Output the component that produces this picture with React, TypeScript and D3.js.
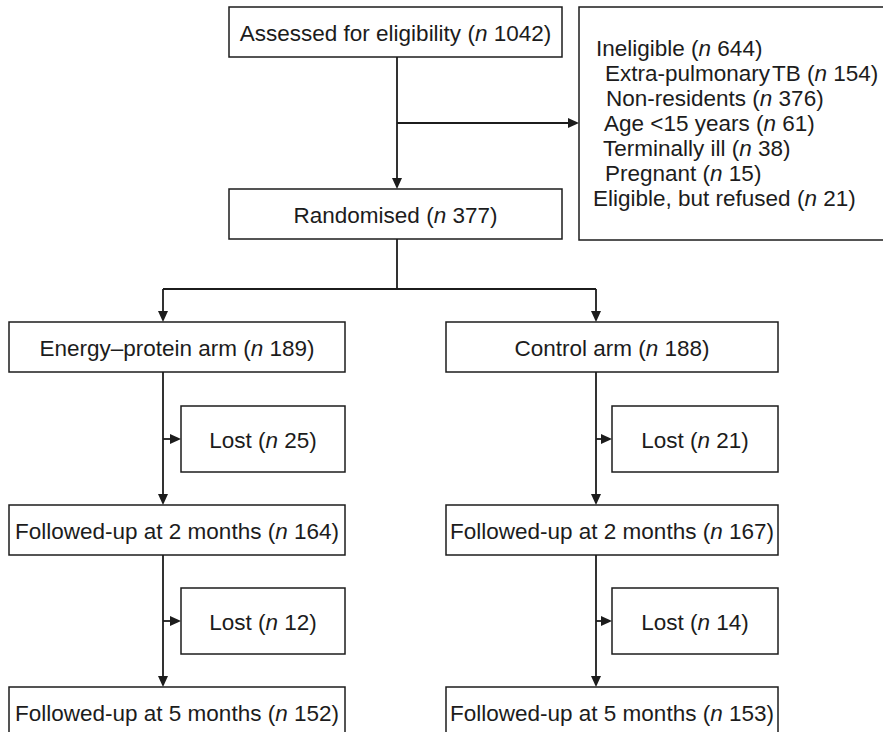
import React from "react";
import * as d3 from "d3";

// flow counts
const stageLabels = ["Assessed for eligibility", "Randomised"];
const stageN = [1042, 377];

const exclusionLabels = [
  "Ineligible",
  "Extra-pulmonary\u200aTB",
  "Non-residents",
  "Age <15 years",
  "Terminally ill",
  "Pregnant",
  "Eligible, but refused",
];
const exclusionN = [644, 154, 376, 61, 38, 15, 21];
const exclusionIndent = [0, 9, 10, 8, 7, 9, -3];

const armLabels = ["Energy\u2013protein arm", "Control arm"];
const armN = [189, 188];
const lostAt2 = [25, 21];
const followed2 = [164, 167];
const lostAt5 = [12, 14];
const followed5 = [152, 153];

const W = 883;
const H = 732;
const FONT = "'Liberation Sans', Arial, Helvetica, sans-serif";
const FS = 22.5;
const INK = "#1c1c1c";

function Label({ x, y, text, n, anchor = "middle" }: { x: number; y: number; text: string; n: number; anchor?: string }) {
  return (
    <text x={x} y={y} textAnchor={anchor} dominantBaseline="central" fontFamily={FONT} fontSize={FS} fill={INK}>
      {text} (<tspan fontStyle="italic">n</tspan> {n})
    </text>
  );
}

function Box({ x0, x1, y0, y1, text, n }: { x0: number; x1: number; y0: number; y1: number; text: string; n: number }) {
  return (
    <g>
      <rect x={x0} y={y0} width={x1 - x0} height={y1 - y0} fill="#fff" stroke={INK} strokeWidth={1.5} />
      <Label x={(x0 + x1) / 2} y={(y0 + y1) / 2 + 1} text={text} n={n} />
    </g>
  );
}

function arrowHead(x: number, y: number, dir: "down" | "right") {
  const len = 11;
  const half = 5;
  const p =
    dir === "down"
      ? [[x, y], [x - half, y - len], [x + half, y - len]]
      : [[x, y], [x - len, y - half], [x - len, y + half]];
  return d3.line()(p as [number, number][]) + "Z";
}

export default function App() {
  // column layout
  const col = d3.scaleOrdinal<number, [number, number]>().domain([0, 1]).range([[9, 345], [446, 778]]);
  const stem = d3.scaleOrdinal<number, number>().domain([0, 1]).range([163, 596]);
  const lostX = d3.scaleOrdinal<number, [number, number]>().domain([0, 1]).range([[181, 345], [612, 778]]);

  const top = { x0: 229, x1: 562 };
  const cx = 397;
  const rows = { assessed: [7, 57], rand: [189, 239], arm: [322, 372], lost1: [406, 472], fu2: [505, 555], lost2: [588, 654], fu5: [687, 737] };
  const exclY = d3.scaleLinear().domain([0, exclusionLabels.length - 1]).range([48, 198]);

  const arms = [0, 1];
  const line = (pts: [number, number][]) => d3.line()(pts) as string;

  return (
    <svg width={W} height={H} style={{ position: "absolute", left: 0, top: 0, display: "block", background: "#fff" }}>
      <g stroke={INK} strokeWidth={1.8} fill="none">
        <path d={line([[cx, rows.assessed[1]], [cx, rows.rand[0] - 8]])} />
        <path d={line([[cx, 123], [569, 123]])} />
        <path d={line([[cx, rows.rand[1]], [cx, 289]])} />
        <path d={line([[stem(0), 289], [stem(1), 289]])} />
        {arms.map((a) => (
          <g key={a}>
            <path d={line([[stem(a), 289], [stem(a), rows.arm[0] - 8]])} />
            <path d={line([[stem(a), rows.arm[1]], [stem(a), rows.fu2[0] - 8]])} />
            <path d={line([[stem(a), rows.fu2[1]], [stem(a), rows.fu5[0] - 8]])} />
            <path d={line([[stem(a), (rows.lost1[0] + rows.lost1[1]) / 2], [lostX(a)[0] - 8, (rows.lost1[0] + rows.lost1[1]) / 2]])} />
            <path d={line([[stem(a), (rows.lost2[0] + rows.lost2[1]) / 2], [lostX(a)[0] - 8, (rows.lost2[0] + rows.lost2[1]) / 2]])} />
          </g>
        ))}
      </g>
      <g fill={INK}>
        <path d={arrowHead(cx, rows.rand[0], "down")} />
        <path d={arrowHead(579, 123, "right")} />
        {arms.map((a) => (
          <g key={a}>
            <path d={arrowHead(stem(a), rows.arm[0], "down")} />
            <path d={arrowHead(stem(a), rows.fu2[0], "down")} />
            <path d={arrowHead(stem(a), rows.fu5[0], "down")} />
            <path d={arrowHead(lostX(a)[0], (rows.lost1[0] + rows.lost1[1]) / 2, "right")} />
            <path d={arrowHead(lostX(a)[0], (rows.lost2[0] + rows.lost2[1]) / 2, "right")} />
          </g>
        ))}
      </g>

      <Box x0={top.x0} x1={top.x1} y0={rows.assessed[0]} y1={rows.assessed[1]} text={stageLabels[0]} n={stageN[0]} />
      <Box x0={top.x0} x1={top.x1} y0={rows.rand[0]} y1={rows.rand[1]} text={stageLabels[1]} n={stageN[1]} />

      <rect x={579} y={7} width={330} height={233} fill="#fff" stroke={INK} strokeWidth={1.5} />
      {exclusionLabels.map((t, i) => (
        <Label key={t} x={596 + exclusionIndent[i]} y={exclY(i)} text={t} n={exclusionN[i]} anchor="start" />
      ))}

      {arms.map((a) => (
        <g key={a}>
          <Box x0={col(a)[0]} x1={col(a)[1]} y0={rows.arm[0]} y1={rows.arm[1]} text={armLabels[a]} n={armN[a]} />
          <Box x0={lostX(a)[0]} x1={lostX(a)[1]} y0={rows.lost1[0]} y1={rows.lost1[1]} text="Lost" n={lostAt2[a]} />
          <Box x0={col(a)[0]} x1={col(a)[1]} y0={rows.fu2[0]} y1={rows.fu2[1]} text="Followed-up at 2 months" n={followed2[a]} />
          <Box x0={lostX(a)[0]} x1={lostX(a)[1]} y0={rows.lost2[0]} y1={rows.lost2[1]} text="Lost" n={lostAt5[a]} />
          <Box x0={col(a)[0]} x1={col(a)[1]} y0={rows.fu5[0]} y1={rows.fu5[1]} text="Followed-up at 5 months" n={followed5[a]} />
        </g>
      ))}
    </svg>
  );
}
